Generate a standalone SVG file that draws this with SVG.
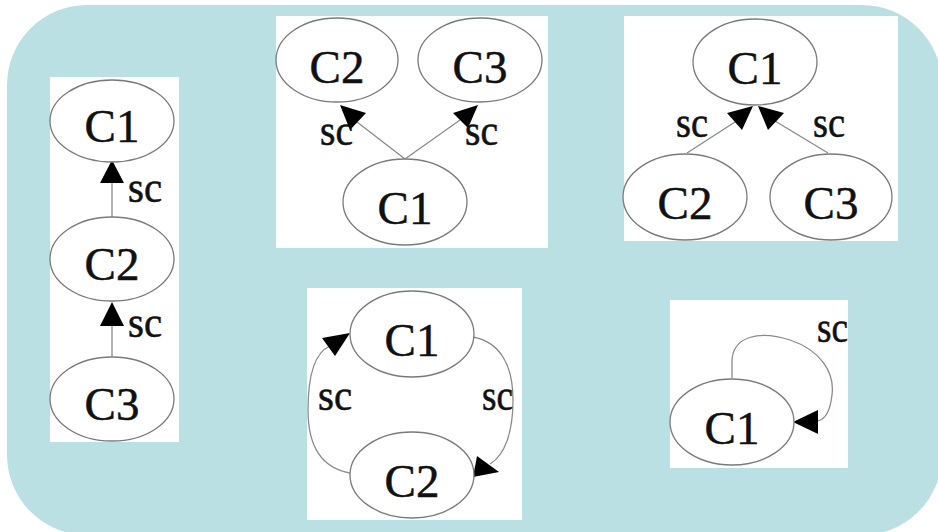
<svg xmlns="http://www.w3.org/2000/svg" width="938" height="532" viewBox="0 0 938 532">
<style>
.bg{fill:#bbe0e3}
.panel{fill:#ffffff}
.node ellipse{fill:#ffffff;stroke:#7a7a7a;stroke-width:1.3}
.node text{font-family:"Liberation Serif","Times New Roman",serif;font-size:47px;fill:#111;stroke:#111;stroke-width:0.5;text-anchor:middle}
.edge{fill:none;stroke:#8a8a8a;stroke-width:1.3}
.head{fill:#000}
.lbl{font-family:"Liberation Serif","Times New Roman",serif;font-size:44px;fill:#111;stroke:#111;stroke-width:0.6}
</style>
<rect class="bg" x="7" y="5" width="935" height="530" rx="80" ry="80"/>
<g id="panels">
<rect class="panel" x="50" y="77" width="129" height="365"/>
<rect class="panel" x="276" y="16" width="272" height="232"/>
<rect class="panel" x="624" y="16" width="274" height="225"/>
<rect class="panel" x="307" y="288" width="215" height="232"/>
<rect class="panel" x="670" y="300" width="178" height="168"/>
</g>
<g id="connectors">
<line class="edge" x1="112" y1="217" x2="112" y2="182"/>
<polygon class="head" points="112,160 100,183 124,183"/>
<text class="lbl" x="128" y="202" textLength="34" lengthAdjust="spacingAndGlyphs">sc</text>
<line class="edge" x1="112" y1="357" x2="112" y2="325"/>
<polygon class="head" points="112,302 100,326 124,326"/>
<text class="lbl" x="128" y="337" textLength="34" lengthAdjust="spacingAndGlyphs">sc</text>
<line class="edge" x1="405" y1="159" x2="357" y2="122"/>
<polygon class="head" points="340,105 366,113 350,130"/>
<text class="lbl" x="320" y="145" textLength="33" lengthAdjust="spacingAndGlyphs">sc</text>
<line class="edge" x1="405" y1="159" x2="460" y2="120"/>
<polygon class="head" points="478,105 453,113 468,128"/>
<text class="lbl" x="465" y="145" textLength="33" lengthAdjust="spacingAndGlyphs">sc</text>
<line class="edge" x1="687" y1="153" x2="735" y2="122"/>
<polygon class="head" points="753,106 727,113 742,130"/>
<text class="lbl" x="676" y="137" textLength="32" lengthAdjust="spacingAndGlyphs">sc</text>
<line class="edge" x1="828" y1="153" x2="775" y2="121"/>
<polygon class="head" points="758,106 784,113 768,130"/>
<text class="lbl" x="813" y="137" textLength="32" lengthAdjust="spacingAndGlyphs">sc</text>
<path class="edge" d="M350,473 C322,468 308,448 308,410 C308,372 316,352 330,346"/>
<polygon class="head" points="350,333 322,338 335,356"/>
<text class="lbl" x="318" y="410" textLength="34" lengthAdjust="spacingAndGlyphs">sc</text>
<path class="edge" d="M473,337 C500,342 513,365 513,400 C513,432 505,455 490,464"/>
<polygon class="head" points="473,477 477,456 499,472"/>
<text class="lbl" x="482" y="410" textLength="31" lengthAdjust="spacingAndGlyphs">sc</text>
<path class="edge" d="M732,378 L732,362 C732,336 760,330 790,340 C820,350 835,372 832,395 C830,413 824,420 817,421"/>
<polygon class="head" points="793,422 818,410 818,434"/>
<text class="lbl" x="817" y="342" textLength="31" lengthAdjust="spacingAndGlyphs">sc</text>
</g>
<g id="nodes">
<g id="p1-C1" class="node"><ellipse cx="112" cy="121" rx="62" ry="41"/><text x="112" y="142">C1</text></g>
<g id="p1-C2" class="node"><ellipse cx="112" cy="259" rx="62" ry="42"/><text x="112" y="280">C2</text></g>
<g id="p1-C3" class="node"><ellipse cx="112" cy="399" rx="62" ry="42"/><text x="112" y="420">C3</text></g>
<g id="p2-C2" class="node"><ellipse cx="337" cy="60" rx="61" ry="42"/><text x="337" y="83">C2</text></g>
<g id="p2-C3" class="node"><ellipse cx="480" cy="60" rx="62" ry="42"/><text x="480" y="83">C3</text></g>
<g id="p2-C1" class="node"><ellipse cx="405" cy="202" rx="62" ry="43"/><text x="405" y="224">C1</text></g>
<g id="p3-C1" class="node"><ellipse cx="755" cy="62" rx="62" ry="43"/><text x="755" y="84">C1</text></g>
<g id="p3-C2" class="node"><ellipse cx="685" cy="197" rx="62" ry="43"/><text x="685" y="219">C2</text></g>
<g id="p3-C3" class="node"><ellipse cx="831" cy="197" rx="61" ry="43"/><text x="831" y="219">C3</text></g>
<g id="p4-C1" class="node"><ellipse cx="412" cy="334" rx="62" ry="43"/><text x="412" y="356">C1</text></g>
<g id="p4-C2" class="node"><ellipse cx="412" cy="475" rx="62" ry="43"/><text x="412" y="497">C2</text></g>
<g id="p5-C1" class="node"><ellipse cx="732" cy="422" rx="62" ry="43"/><text x="732" y="444">C1</text></g>
</g>
</svg>
